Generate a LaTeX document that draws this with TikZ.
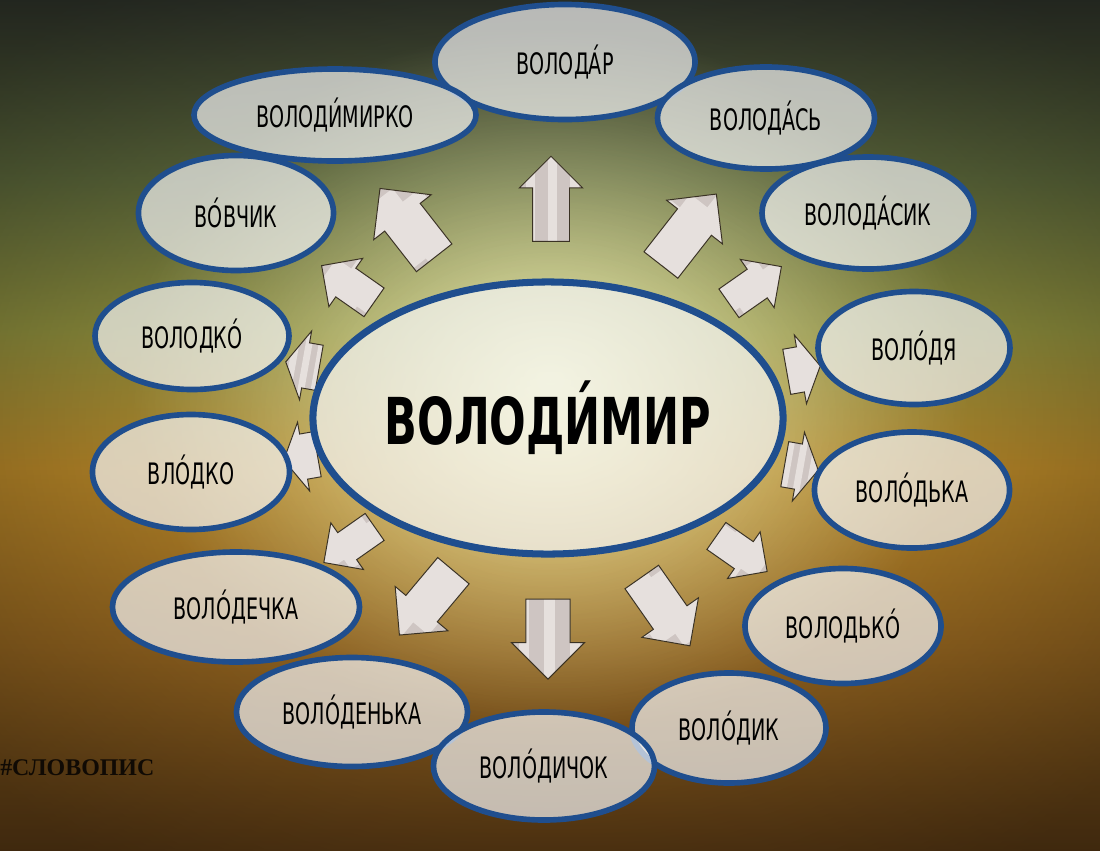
\documentclass[tikz,border=0pt]{standalone}
\usepackage{fontspec}
\setmainfont{DejaVu Sans Condensed}
\newfontfamily\namefont[FakeStretch=0.72]{DejaVu Sans Condensed}
\newfontfamily\hubfont[FakeStretch=0.74]{DejaVu Sans Condensed Bold}
\newfontfamily\tagfont{Liberation Serif Bold}
\usetikzlibrary{shapes.geometric,shapes.arrows,fadings,calc}

\definecolor{rimblue}{HTML}{1F4E8E}
\definecolor{arrowfill}{HTML}{CEC5C2}
\definecolor{arrowband}{HTML}{E6E0DD}
\definecolor{arrowline}{HTML}{3A3224}
\definecolor{bgbrown}{HTML}{6A4418}
\definecolor{bgrust}{HTML}{B07826}
\definecolor{bgamber}{HTML}{D9A030}
\definecolor{bgmoss}{HTML}{A8A848}
\definecolor{bgolive}{HTML}{6E7C46}
\definecolor{bgtop}{HTML}{3A4034}
\definecolor{glow}{HTML}{F6F7BC}

\pgfdeclareverticalshading{bgwash}{100bp}{color(0bp)=(bgbrown); color(25bp)=(bgbrown);
  color(37bp)=(bgrust); color(47.5bp)=(bgamber); color(55.5bp)=(bgmoss);
  color(64.5bp)=(bgolive); color(75bp)=(bgtop); color(100bp)=(bgtop)}
\tikzfading[name=glowfade, inner color=transparent!0, outer color=transparent!100]
\tikzfading[name=edgefade, inner color=transparent!100, outer color=transparent!60]

\begin{document}
\begin{tikzpicture}[x=0.025cm, y=-0.025cm,
  oval/.style args={#1 by #2}{ellipse, draw=rimblue, line width=4pt, fill=white!92!gray,
    fill opacity=0.7, text opacity=1, inner sep=0pt,
    minimum width=#1cm, minimum height=#2cm, font=\namefont\fontsize{21}{21}\selectfont},
  pointer/.style args={#1 by #2 by #3}{single arrow, draw=arrowline, line width=0.7pt,
    fill=arrowfill, inner xsep=0pt, inner ysep=#2cm, minimum height=#1cm,
    single arrow head extend=#3cm,
    path picture={
      \foreach \t in {0.1,0.45,0.8}
        \fill[arrowband] ($(path picture bounding box.south west)!\t!(path picture bounding box.south east)$)
          rectangle ($(path picture bounding box.north west)!\t+0.14!(path picture bounding box.north east)$);
    }},
  squat/.style={single arrow tip angle=120},
]

\useasboundingbox (0,0) rectangle (1100,850);

% background
\shade[shading=bgwash] (0,0) rectangle (1100,850);
\fill[glow, path fading=glowfade] (550,380) ellipse [x radius=420, y radius=350];
\fill[black, path fading=edgefade, fit fading=true] (-150,-150) rectangle (1250,1000);

% arrows round the hub
\node[pointer=2.125 by 0.45 by 0.33, rotate=90] (upA)   at (551,208) {};
\node[pointer=2.2 by 0.55 by 0.35, rotate=128]  (nwA)   at (414,232) {};
\node[pointer=2.25 by 0.525 by 0.35, rotate=52] (neA)   at (682,238) {};
\node[pointer=1.6 by 0.425 by 0.3, rotate=145]  (nwB)   at (355,289) {};
\node[pointer=1.6 by 0.425 by 0.3, rotate=35]   (neB)   at (748,290) {};
\node[pointer=0.85 by 0.56 by 0.3, squat, rotate=170] (wA) at (309,366) {};
\node[pointer=0.85 by 0.56 by 0.3, squat, rotate=10]  (eA) at (797,370) {};
\node[pointer=0.85 by 0.56 by 0.3, squat, rotate=190] (wB) at (307,456) {};
\node[pointer=0.85 by 0.56 by 0.3, squat, rotate=-10] (eB) at (795,466) {};
\node[pointer=1.55 by 0.4 by 0.3, rotate=215]   (swB)   at (356,540) {};
\node[pointer=1.55 by 0.4 by 0.3, rotate=325]   (seB)   at (735,549) {};
\node[pointer=2.1 by 0.5 by 0.35, rotate=230]   (swA)   at (433,595) {};
\node[pointer=2.1 by 0.5 by 0.35, rotate=305]   (seA)   at (660,603) {};
\node[pointer=2.0 by 0.54 by 0.36, rotate=270]  (downA) at (548,628) {};

% the hub
\node[oval=11.75 by 6.8, line width=5pt, font=\hubfont\fontsize{46}{46}\selectfont] (hub) at (548,418) {ВОЛОДИ́МИР};

% the names
\node[oval=6.5 by 2.875]   (volodar)     at (565,62)  {ВОЛОДА́Р};
\node[oval=7.05 by 2.3]    (volodymyrko) at (335,115) {ВОЛОДИ́МИРКО};
\node[oval=5.425 by 2.55]  (volodas)     at (766,118) {ВОЛОДА́СЬ};
\node[oval=5.3 by 2.8]     (volodasyk)   at (868,213) {ВОЛОДА́СИК};
\node[oval=4.875 by 2.875] (vovchyk)     at (236,213) {ВО́ВЧИК};
\node[oval=4.85 by 2.675]  (volodko)     at (192,336) {ВОЛОДКО́};
\node[oval=4.8 by 2.825]   (volodia)     at (914,348) {ВОЛО́ДЯ};
\node[oval=4.925 by 2.875] (vlodko)      at (191,472) {ВЛО́ДКО};
\node[oval=4.875 by 2.9]   (volodka)     at (912,490) {ВОЛО́ДЬКА};
\node[oval=6.175 by 2.75]  (volodechka)  at (236,607) {ВОЛО́ДЕЧКА};
\node[oval=4.9 by 2.875]   (volodko2)    at (843,626) {ВОЛОДЬКО́};
\node[oval=5.775 by 2.725] (volodenka)   at (352,712) {ВОЛО́ДЕНЬКА};
\node[oval=4.85 by 2.75]   (volodyk)     at (729,728) {ВОЛО́ДИК};
\node[oval=5.525 by 2.7]   (volodychok)  at (544,766) {ВОЛО́ДИЧОК};

\node[anchor=west, inner sep=0pt, text=black!85!bgbrown,
  font=\tagfont\fontsize{17}{17}\selectfont] (tag) at (0,768) {\#СЛОВОПИС};

\end{tikzpicture}
\end{document}
